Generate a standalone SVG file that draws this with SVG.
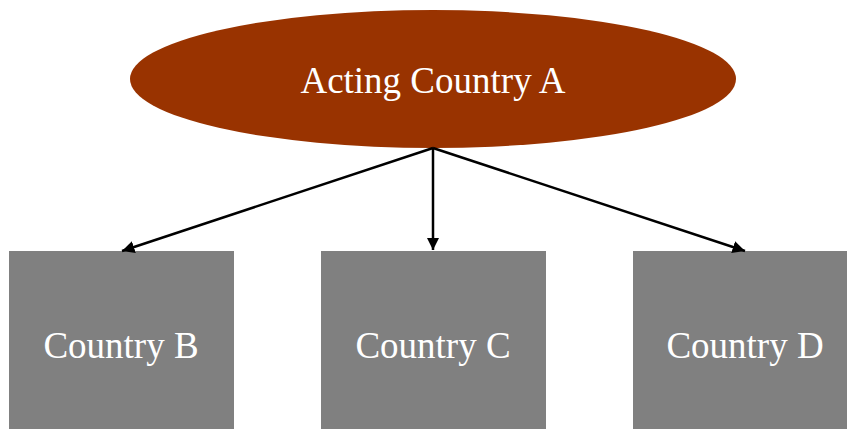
<svg xmlns="http://www.w3.org/2000/svg" width="847" height="429" viewBox="0 0 847 429">
<style>
.box{fill:#808080}
.lbl{font-family:"Liberation Serif",serif;font-size:37px;fill:#ffffff;text-anchor:middle}
.conn{stroke:#000;stroke-width:2.5;fill:none}
</style>
<defs>
<marker id="ah" viewBox="0 0 10 10" refX="10" refY="5" markerWidth="5" markerHeight="5" orient="auto" markerUnits="strokeWidth">
<path d="M0,0 L10,5 L0,10 z" fill="#000"/>
</marker>
</defs>
<rect width="847" height="429" fill="#fff"/>
<g id="nodeA">
<ellipse cx="433" cy="79" rx="303" ry="69" fill="#993300"/>
<text class="lbl" x="433" y="93">Acting Country A</text>
</g>
<g id="nodeB">
<rect class="box" x="9" y="251" width="225" height="178"/>
<text class="lbl" x="121" y="358">Country B</text>
</g>
<g id="nodeC">
<rect class="box" x="321" y="251" width="225" height="178"/>
<text class="lbl" x="433" y="358">Country C</text>
</g>
<g id="nodeD">
<rect class="box" x="633" y="251" width="214" height="178"/>
<text class="lbl" x="745" y="358">Country D</text>
</g>
<g id="connectors">
<line class="conn" x1="433" y1="148" x2="122" y2="251" marker-end="url(#ah)"/>
<line class="conn" x1="433" y1="148" x2="433" y2="250" marker-end="url(#ah)"/>
<line class="conn" x1="433" y1="148" x2="745" y2="251" marker-end="url(#ah)"/>
</g>
</svg>
